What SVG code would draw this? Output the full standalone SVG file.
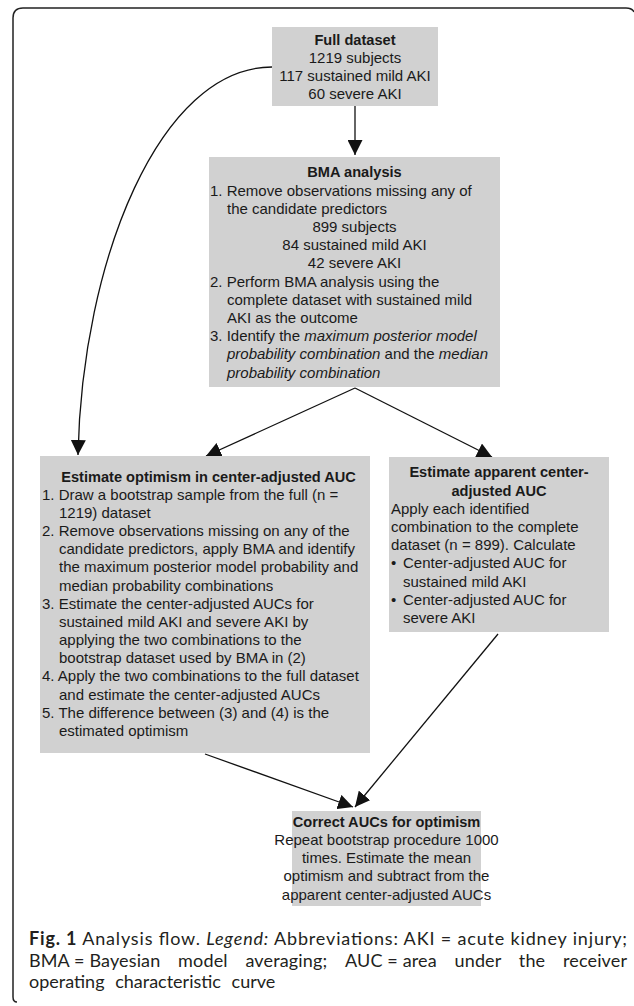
<svg xmlns="http://www.w3.org/2000/svg" width="634" height="1006" viewBox="0 0 634 1006">
<defs>
<style>
.box{fill:#d1d1d1;stroke:none}
.t{font-family:"Liberation Sans",Arial,sans-serif;font-size:15px;fill:#1a1a1a}
.b{font-weight:bold;font-size:14.6px}
.c{text-anchor:middle}
.i{font-style:italic}
.con{fill:none;stroke:#111;stroke-width:1.3}
.cap{font-family:Lato,"Open Sans",sans-serif;font-size:18px;fill:#231f20}
</style>
<marker id="ah" viewBox="0 0 10 10" refX="10" refY="5" markerWidth="15" markerHeight="15" markerUnits="userSpaceOnUse" orient="auto">
<path d="M0,0 L10,5 L0,10 z" fill="#111"/>
</marker>
</defs>
<rect width="634" height="1006" fill="#fff"/>
<path d="M17,1002 Q13,1002 13,997 L13,18 Q13,8 23,8 L626,8 Q632,8 634,12" fill="none" stroke="#222" stroke-width="1.5"/>

<g id="connectors">
<line class="con" x1="355" y1="106" x2="355" y2="155" marker-end="url(#ah)"/>
<path class="con" d="M272,67 C160,67 82,260 78,455" marker-end="url(#ah)"/>
<line class="con" x1="355" y1="388" x2="206" y2="456" marker-end="url(#ah)"/>
<line class="con" x1="355" y1="388" x2="492" y2="457" marker-end="url(#ah)"/>
<line class="con" x1="205" y1="754" x2="353" y2="807" marker-end="url(#ah)"/>
<line class="con" x1="498" y1="634" x2="355" y2="807" marker-end="url(#ah)"/>
</g>

<g id="full-dataset">
<rect class="box" x="272" y="27" width="166" height="79"/>
<text class="t b c" x="355" y="45">Full dataset</text>
<text class="t c" x="355" y="63">1219 subjects</text>
<text class="t c" x="355" y="81">117 sustained mild AKI</text>
<text class="t c" x="355" y="99">60 severe AKI</text>
</g>

<g id="bma-analysis">
<rect class="box" x="209" y="157" width="291" height="230"/>
<text class="t b c" x="354.5" y="177.3">BMA analysis</text>
<text class="t" x="210" y="195.5">1. Remove observations missing any of</text>
<text class="t" x="227" y="213.7">the candidate predictors</text>
<text class="t c" x="354.5" y="231.9">899 subjects</text>
<text class="t c" x="354.5" y="250.1">84 sustained mild AKI</text>
<text class="t c" x="354.5" y="268.3">42 severe AKI</text>
<text class="t" x="210" y="286.5">2. Perform BMA analysis using the</text>
<text class="t" x="227" y="304.7">complete dataset with sustained mild</text>
<text class="t" x="227" y="322.9">AKI as the outcome</text>
<text class="t" x="210" y="341.1">3. Identify the <tspan class="i">maximum posterior model</tspan></text>
<text class="t" x="227" y="359.3"><tspan class="i">probability combination</tspan> and the <tspan class="i">median</tspan></text>
<text class="t i" x="227" y="377.5">probability combination</text>
</g>

<g id="estimate-optimism">
<rect class="box" x="40" y="456" width="330" height="297"/>
<text class="t b c" x="208.5" y="481.7">Estimate optimism in center-adjusted AUC</text>
<text class="t" x="42" y="499.8">1. Draw a bootstrap sample from the full (n =</text>
<text class="t" x="59" y="518">1219) dataset</text>
<text class="t" x="42" y="536.1">2. Remove observations missing on any of the</text>
<text class="t" x="59" y="554.3">candidate predictors, apply BMA and identify</text>
<text class="t" x="59" y="572.4">the maximum posterior model probability and</text>
<text class="t" x="59" y="590.6">median probability combinations</text>
<text class="t" x="42" y="608.7">3. Estimate the center-adjusted AUCs for</text>
<text class="t" x="59" y="626.9">sustained mild AKI and severe AKI by</text>
<text class="t" x="59" y="645">applying the two combinations to the</text>
<text class="t" x="59" y="663.2">bootstrap dataset used by BMA in (2)</text>
<text class="t" x="42" y="681.3">4. Apply the two combinations to the full dataset</text>
<text class="t" x="59" y="699.5">and estimate the center-adjusted AUCs</text>
<text class="t" x="42" y="717.6">5. The difference between (3) and (4) is the</text>
<text class="t" x="59" y="735.8">estimated optimism</text>
</g>

<g id="apparent-auc">
<rect class="box" x="389" y="457" width="220" height="175"/>
<text class="t b c" x="499" y="477.3">Estimate apparent center-</text>
<text class="t b c" x="499" y="495.5">adjusted AUC</text>
<text class="t" x="391" y="513.7">Apply each identified</text>
<text class="t" x="391" y="531.9">combination to the complete</text>
<text class="t" x="391" y="550.1">dataset (n = 899). Calculate</text>
<text class="t" x="391" y="568.3">•<tspan x="403">Center-adjusted AUC for</tspan></text>
<text class="t" x="403" y="586.5">sustained mild AKI</text>
<text class="t" x="391" y="604.7">•<tspan x="403">Center-adjusted AUC for</tspan></text>
<text class="t" x="403" y="622.9">severe AKI</text>
</g>

<g id="correct-aucs">
<rect class="box" x="292" y="811" width="189" height="95"/>
<text class="t b c" x="386.5" y="826.7">Correct AUCs for optimism</text>
<text class="t c" x="386.5" y="844.9">Repeat bootstrap procedure 1000</text>
<text class="t c" x="386.5" y="863.1">times. Estimate the mean</text>
<text class="t c" x="386.5" y="881.3">optimism and subtract from the</text>
<text class="t c" x="386.5" y="899.5">apparent center-adjusted AUCs</text>
</g>

<g id="caption">
<text class="cap" x="29" y="945" textLength="598" lengthAdjust="spacing"><tspan font-weight="bold">Fig. 1</tspan> Analysis flow. <tspan font-style="italic">Legend:</tspan> Abbreviations: AKI = acute kidney injury;</text>
<text class="cap" x="29" y="967" word-spacing="13" textLength="598" lengthAdjust="spacing"><tspan word-spacing="0">BMA = Bayesian</tspan> model averaging; <tspan word-spacing="0">AUC = area</tspan> under the receiver</text>
<text class="cap" x="29" y="988" word-spacing="6">operating characteristic curve</text>
</g>
</svg>
